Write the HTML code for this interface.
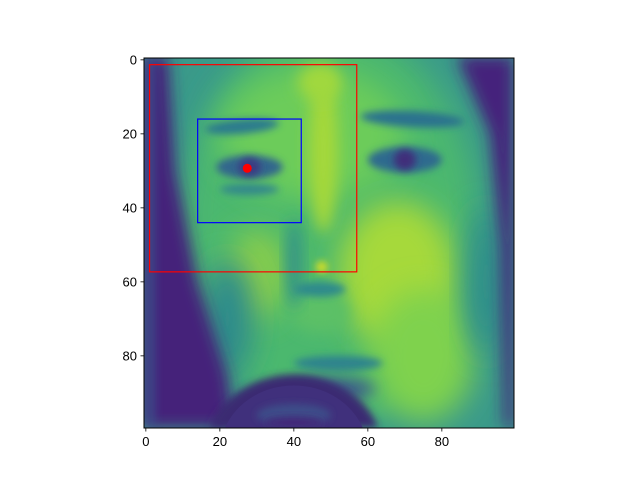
<!DOCTYPE html>
<html><head><meta charset="utf-8">
<style>
html,body{margin:0;padding:0;background:#fff;overflow:hidden;width:640px;height:480px;}
#wrap{position:relative;width:640px;height:480px;overflow:hidden;font-family:"Liberation Sans",sans-serif;}
#wrap>svg{display:block;}
svg text{font-family:"Liberation Sans",sans-serif;font-size:13px;fill:#000;}
</style></head>
<body>
<div id="wrap">
<svg width="640" height="480">
 <defs>
  <filter id="b2" x="-50%" y="-50%" width="200%" height="200%"><feGaussianBlur stdDeviation="2"/></filter>
  <filter id="b1" x="-50%" y="-50%" width="200%" height="200%"><feGaussianBlur stdDeviation="1"/></filter>
  <filter id="b4" x="-50%" y="-50%" width="200%" height="200%"><feGaussianBlur stdDeviation="4"/></filter>
  <clipPath id="clip"><rect x="-0.5" y="-0.5" width="100" height="100"/></clipPath>
 </defs>
 <svg x="144" y="58" width="370" height="370" viewBox="-0.5 -0.5 100 100" preserveAspectRatio="none">
  <g clip-path="url(#clip)">
   <rect x="-0.5" y="-0.5" width="100" height="100" fill="#3a9a8a"/>
   <ellipse cx="50" cy="45" rx="40" ry="54" fill="#4cb86e" filter="url(#b4)"/>
   <ellipse cx="45" cy="20" rx="25" ry="18" fill="#6ccc5a" filter="url(#b4)"/>
   <ellipse cx="68" cy="58" rx="16" ry="20" fill="#a6d93a" filter="url(#b4)"/>
   <ellipse cx="75" cy="80" rx="14" ry="18" fill="#7fd24e" filter="url(#b4)"/>
   <ellipse cx="48" cy="25" rx="4" ry="22" fill="#a4d83a" filter="url(#b2)"/>
   <ellipse cx="47" cy="6" rx="6" ry="5" fill="#a0d83c" filter="url(#b2)"/>
   <ellipse cx="30" cy="58" rx="8" ry="12" fill="#8ccf48" filter="url(#b4)"/>
   <ellipse cx="47" cy="68" rx="8" ry="6" fill="#5cc066" filter="url(#b2)"/>
   <circle cx="47.5" cy="56" r="1.5" fill="#e4e21a" filter="url(#b1)"/>
   <ellipse cx="40" cy="55" rx="2" ry="12" fill="#2f8f8a" filter="url(#b2)"/>
   <ellipse cx="47" cy="62" rx="7" ry="2" fill="#2e8a8c" filter="url(#b1)"/>
   <ellipse cx="22" cy="70" rx="7" ry="16" fill="#2d8a8c" filter="url(#b4)"/>
   <ellipse cx="92" cy="60" rx="5" ry="20" fill="#2e8e8b" filter="url(#b4)"/>
   <ellipse cx="26" cy="18" rx="10" ry="2" fill="#2b7a8e" filter="url(#b1)" transform="rotate(-5 26 18)"/>
   <ellipse cx="72" cy="16" rx="14" ry="2.2" fill="#2a728e" filter="url(#b1)" transform="rotate(3 72 16)"/>
   <ellipse cx="28" cy="29" rx="9" ry="3.2" fill="#30668d" filter="url(#b1)"/>
   <ellipse cx="28" cy="29" rx="3" ry="2.5" fill="#3a3a82" filter="url(#b1)"/>
   <ellipse cx="70" cy="27" rx="10" ry="3.5" fill="#2f6a8e" filter="url(#b1)"/>
   <ellipse cx="70" cy="27" rx="3" ry="2.8" fill="#402f7a" filter="url(#b1)"/>
   <ellipse cx="28" cy="35" rx="8" ry="1.5" fill="#32878c" filter="url(#b1)"/>
   <ellipse cx="52" cy="82" rx="12" ry="2" fill="#2d838d" filter="url(#b1)"/>
   <ellipse cx="50" cy="89" rx="12" ry="3" fill="#3c5a8b" filter="url(#b2)"/>
   <polygon points="-1,-1 6,-1 8,30 14,60 22,85 24,99.5 -1,99.5" fill="#45207a" filter="url(#b2)"/>
   <rect x="-0.5" y="0" width="3.5" height="99" fill="#3b4c8a" filter="url(#b1)" opacity="0.6"/>
   <polygon points="84,-1 99.5,-1 99.5,99.5 97,99.5 96,50 93,20" fill="#45237b" filter="url(#b2)"/>
   <path d="M17.2,99.5 A24,21 0 0 1 62.8,99.5 Z" fill="#3b2a72" filter="url(#b1)"/>
   <path d="M21.35,99.5 A20,18 0 0 1 58.65,99.5 Z" fill="#40307c"/>
   <ellipse cx="40" cy="96" rx="10" ry="3" fill="#3d4e89" filter="url(#b1)"/>
   <ellipse cx="40" cy="98" rx="8" ry="1.5" fill="#432878" filter="url(#b1)"/>
  </g>
 </svg>
 <g id="overlay"></g>
 <rect x="144" y="58" width="370" height="370" fill="none" stroke="#000" stroke-width="1"/>
 <g id="xticks"></g><g id="yticks"></g>
</svg>
</div>
<script>
const xTicks=[0,20,40,60,80];
const yTicks=[0,20,40,60,80];
const redBox=[1,1.3,57,57.3];
const blueBox=[14,16,42,44];
const point=[27.4,29.3];
const L=144,T=58,S=370/100;
function sx(v){return L+(v+0.5)*S;}
function sy(v){return T+(v+0.5)*S;}
const NS='http://www.w3.org/2000/svg';
function mk(tag,attrs,parent){const e=document.createElementNS(NS,tag);for(const k in attrs)e.setAttribute(k,attrs[k]);parent.appendChild(e);return e;}
const ov=document.getElementById('overlay');
const r1=mk('rect',{x:sx(redBox[0]),y:sy(redBox[1]),width:(redBox[2]-redBox[0])*S,height:(redBox[3]-redBox[1])*S,fill:'none',stroke:'#ff0000','stroke-width':1.2},ov);


const r2=mk('rect',{x:sx(blueBox[0]),y:sy(blueBox[1]),width:(blueBox[2]-blueBox[0])*S,height:(blueBox[3]-blueBox[1])*S,fill:'none',stroke:'#0000ff','stroke-width':1.2},ov);


const c=mk('circle',{cx:sx(point[0]),cy:sy(point[1]),r:4.5,fill:'#ff0000'},ov);


const xg=document.getElementById('xticks'),yg=document.getElementById('yticks');
xTicks.forEach(v=>{const x=sx(v);
 const l=mk('line',{x1:x,x2:x,y1:428,y2:431.5,stroke:'#000','stroke-width':0.8},xg);
 
 
 const t=mk('text',{x:x,y:446,'text-anchor':'middle'},xg);t.textContent=v;
 
 
});
yTicks.forEach(v=>{const y=sy(v);
 const l=mk('line',{x1:140.5,x2:144,y1:y,y2:y,stroke:'#000','stroke-width':0.8},yg);
 
 
 const t=mk('text',{x:137,y:y+4.5,'text-anchor':'end'},yg);t.textContent=v;
 
 
});
</script>
</body></html>
